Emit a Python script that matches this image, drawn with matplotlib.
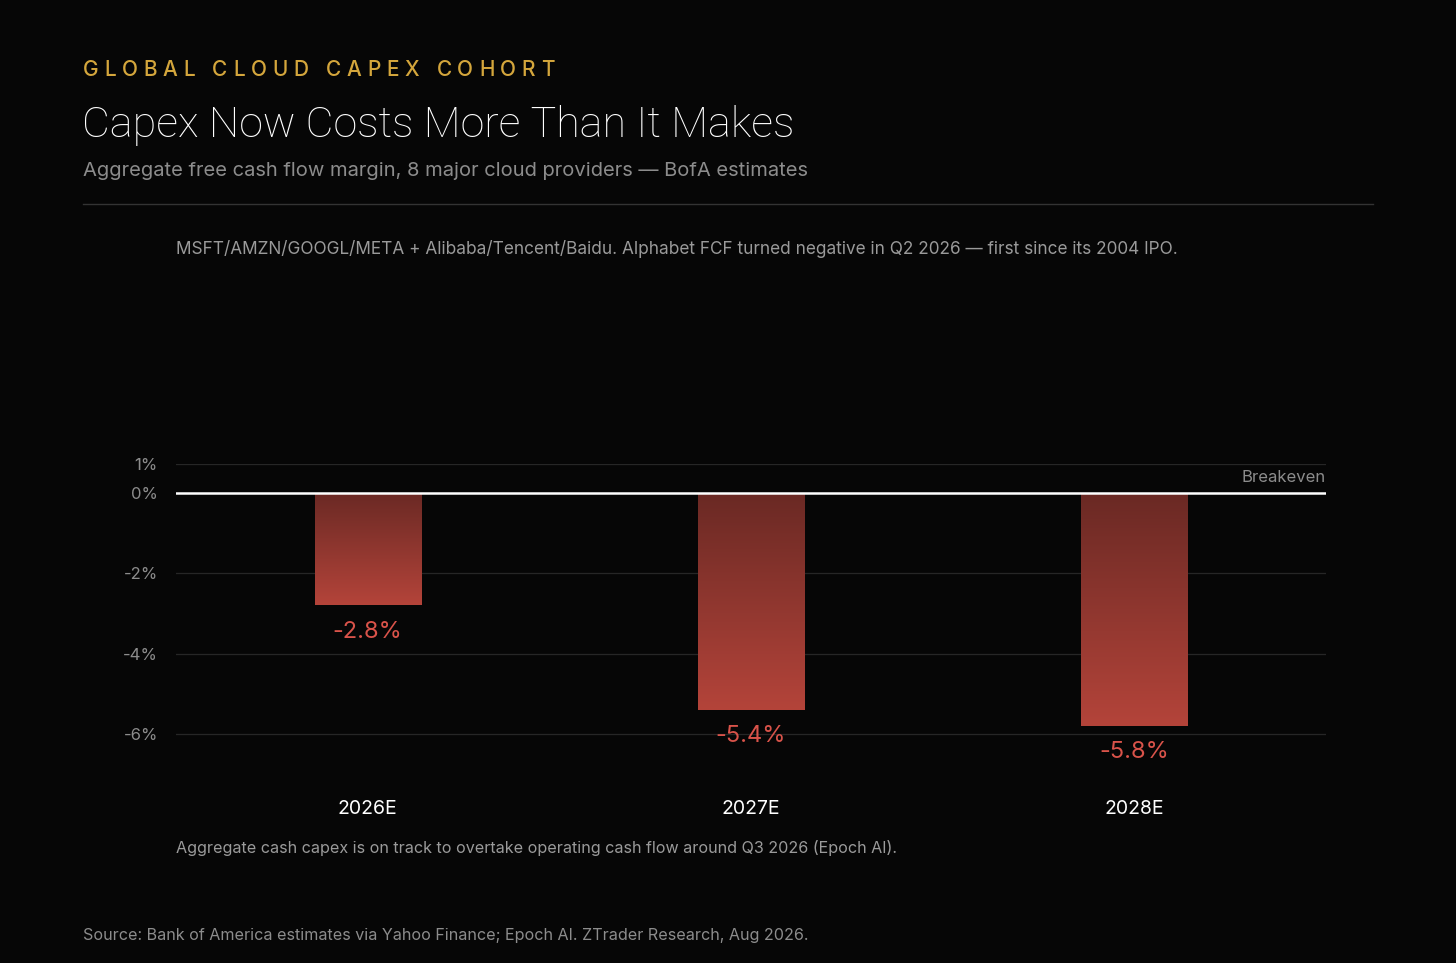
import numpy as np
import matplotlib
matplotlib.use("Agg")
import matplotlib.pyplot as plt
from matplotlib.colors import LinearSegmentedColormap

# data
years = ["2026E", "2027E", "2028E"]
fcf_margin = [-2.8, -5.4, -5.8]
tick_vals = [0.72, 0, -2, -4, -6]
tick_labels = ["1%", "0%", "-2%", "-4%", "-6%"]

kicker = "GLOBAL CLOUD CAPEX COHORT"
title = "Capex Now Costs More Than It Makes"
subtitle = "Aggregate free cash flow margin, 8 major cloud providers \u2014 BofA estimates"
note_top = ("MSFT/AMZN/GOOGL/META + Alibaba/Tencent/Baidu. Alphabet FCF turned negative "
            "in Q2 2026 \u2014 first since its 2004 IPO.")
note_bottom = "Aggregate cash capex is on track to overtake operating cash flow around Q3 2026 (Epoch AI)."
source = "Source: Bank of America estimates via Yahoo Finance; Epoch AI. ZTrader Research, Aug 2026."

BG = "#060606"
GOLD = "#d4a63c"
GREY = "#8c8c8c"
RED_TXT = "#d9534a"

plt.rcParams['font.family'] = ['Inter', 'DejaVu Sans']

W, H = 1456, 963
fig = plt.figure(figsize=(W / 100, H / 100), dpi=100, facecolor=BG)

def fx(px):
    return px / W

def fy(py):
    return 1 - py / H

# header, kicker is letter-spaced so place it char by char
renderer = fig.canvas.get_renderer()
x = 83
for ch in kicker:
    t = fig.text(fx(x), fy(76), ch, color=GOLD, fontsize=15, fontweight='medium',
                 va='baseline', ha='left')
    w = t.get_window_extent(renderer).width if ch != " " else 6
    x += w + 5.7

fig.text(fx(82), fy(137), title, color="white", fontsize=31, fontweight='light',
         family=['Roboto', 'DejaVu Sans'], va='baseline')
fig.text(fx(83), fy(176), subtitle, color=GREY, fontsize=14.5, va='baseline')
fig.add_artist(plt.Line2D([fx(83), fx(1373)], [fy(204), fy(204)], color="#333333", lw=1))
fig.text(fx(176), fy(254), note_top, color="#9a9a9a", fontsize=12.4, va='baseline')

# chart
ax = fig.add_axes([fx(176), fy(774), fx(1326) - fx(176), fy(464) - fy(774)])
ax.set_facecolor(BG)
xpos = np.arange(len(years))
ax.set_xlim(-0.5, len(years) - 0.5)
ax.set_ylim(-7, 0.72)

for v in tick_vals[2:] + tick_vals[:1]:
    ax.axhline(v, color="#262626", lw=0.9, zorder=1)
ax.axhline(0, color="white", lw=1.8, zorder=5)

cmap = LinearSegmentedColormap.from_list("bar", ["#6a2924", "#b4443a"])
grad = np.linspace(0, 1, 256).reshape(-1, 1)
bars = ax.bar(xpos, fcf_margin, width=0.277, color="none", zorder=3)
for b, v in zip(bars, fcf_margin):
    x0, w = b.get_x(), b.get_width()
    im = ax.imshow(grad, cmap=cmap, aspect='auto', extent=(x0, x0 + w, v, 0),
                   origin='upper', zorder=3)
    im.set_clip_path(b)
    ax.annotate(f"{v:.1f}%", (b.get_x() + w / 2, v), xytext=(0, -11),
                textcoords='offset points', ha='center', va='top',
                color=RED_TXT, fontsize=17)

ax.text(1, 0.2, "Breakeven", transform=ax.get_yaxis_transform(), ha='right',
        va='bottom', color=GREY, fontsize=12)

ax.set_yticks(tick_vals)
ax.set_yticklabels(tick_labels)
ax.set_xticks(xpos)
ax.set_xticklabels(years)
ax.tick_params(axis='y', length=0, pad=13, colors=GREY, labelsize=12)
ax.tick_params(axis='x', length=0, pad=19, colors="white", labelsize=14)
for s in ax.spines.values():
    s.set_visible(False)

fig.text(fx(176), fy(853), note_bottom, color="#9a9a9a", fontsize=11.6, va='baseline')
fig.text(fx(83), fy(940), source, color=GREY, fontsize=11.6, va='baseline')

fig.savefig("out.png", dpi=100, facecolor=BG)
